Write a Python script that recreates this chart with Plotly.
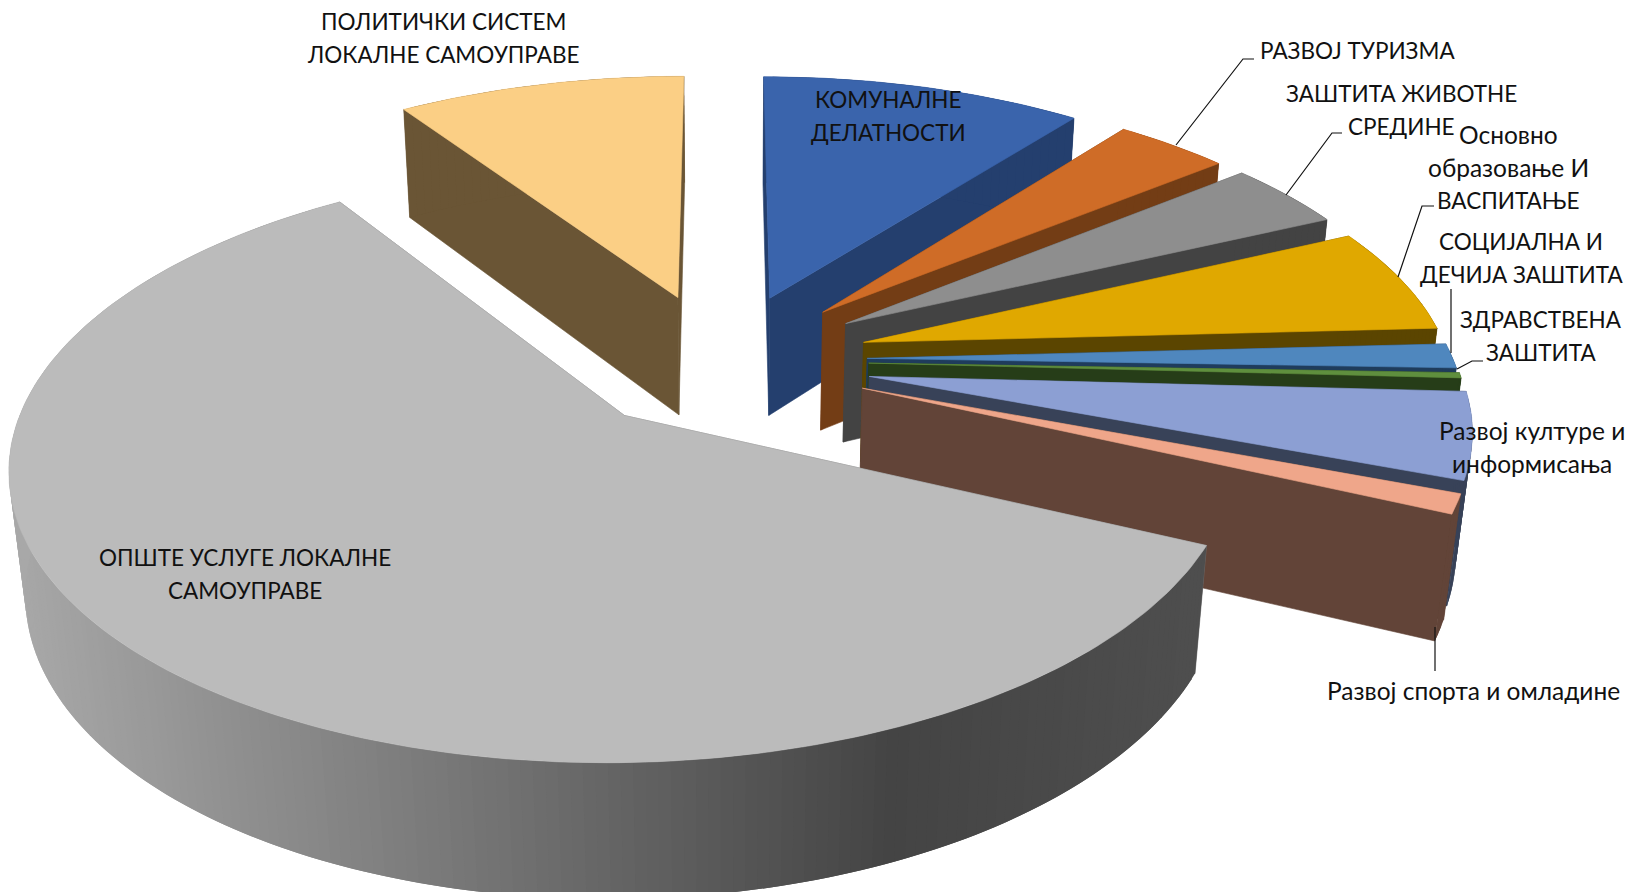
import numpy as np
import plotly.graph_objects as go

# ---- data -------------------------------------------------------------
categories = ["КОМУНАЛНЕ<br>ДЕЛАТНОСТИ", "РАЗВОЈ ТУРИЗМА", "ЗАШТИТА ЖИВОТНЕ<br>СРЕДИНЕ",
              "Основно<br>образовање И<br>ВАСПИТАЊЕ", "СОЦИЈАЛНА И<br>ДЕЧИЈА ЗАШТИТА",
              "ЗДРАВСТВЕНА<br>ЗАШТИТА", "Развој културе и<br>информисања",
              "Развој спорта и омладине", "ОПШТЕ УСЛУГЕ ЛОКАЛНЕ<br>САМОУПРАВЕ",
              "ПОЛИТИЧКИ СИСТЕМ<br>ЛОКАЛНЕ САМОУПРАВЕ"]
values = [10.5, 3.7, 3.9, 6.1, 1.4, 0.3, 4.9, 1.1, 58.9, 9.4]
pull = [0.225, 0.225, 0.225, 0.23, 0.234, 0.236, 0.24, 0.25, 0.255, 0.225]
# small per-slice corrections of the explosion (camera differences)
nudge_u = [0.005, 0.0085, 0.012, 0.007, 0.0, 0.0, 0.0, -0.0085, 0.0085, -0.012]
nudge_v = [-0.007, -0.007, -0.007, -0.011, -0.014, -0.018, -0.025, -0.018, -0.011, -0.007]
top_colors = ["#3A64AC", "#CF6C27", "#8E8E8E", "#E0A800", "#4F87BE", "#5F8F3E",
              "#8C9FD3", "#EFA68A", "#BBBBBB", "#FBCF85"]
side_colors = ["#243F6E", "#733D15", "#434343", "#5B4500", "#1F3C5C", "#263D18",
               "#384258", "#624438", "#707070", "#6A5535"]
label_pos = [(888, 116), (1357, 50), (1401, 110), (1508, 167), (1521, 258), (1541, 336),
             (1532, 447), (1473, 690), (245, 574), (443, 38)]
leaders = [[(1176, 145), (1243, 59), (1254, 59)],
           [(1286, 195), (1332, 133), (1342, 133)],
           [(1398, 277), (1422, 206), (1434, 206)],
           [(1451, 353), (1451, 289)],
           [(1457, 369), (1472, 361), (1483, 361)],
           [(1435, 627), (1435, 671)]]
LINE_STEP = 33

# ---- 3-D projection of the exploded pie ------------------------------
CX, CY, RX, RY, DROP, PERSP, HSHRINK = 723.7, 355, 612, 285, 122.5, 0.163, 0.022
RIM = 0.955


def proj(u, v, z):
    w = 1 + PERSP * v + HSHRINK * z
    return CX + RX * u / w, CY - (RY * v - DROP * z) / w


def grey(level):
    g = int(round(level))
    return f"#{g:02x}{g:02x}{g:02x}"


fig = go.Figure()


def poly(pts, color, lw=0.6):
    xs = [p[0] for p in pts] + [pts[0][0]]
    ys = [p[1] for p in pts] + [pts[0][1]]
    fig.add_trace(go.Scatter(x=xs, y=ys, mode="lines", fill="toself", fillcolor=color,
                             line=dict(color=color, width=lw), hoverinfo="skip",
                             showlegend=False))


total = sum(values)
starts = np.cumsum([0] + values[:-1]) / total * 2 * np.pi
spans = np.array(values) / total * 2 * np.pi
order = [9, 0, 1, 2, 3, 4, 5, 6, 7, 8]

for i in order:
    a0, a1 = starts[i], starts[i] + spans[i]
    mid = (a0 + a1) / 2
    ox = pull[i] * np.sin(mid) + nudge_u[i]
    oy = pull[i] * np.cos(mid) + nudge_v[i]
    n = max(3, int(np.degrees(spans[i]) / 1.0))
    angs = np.linspace(a0, a1, n + 1)
    rim = [(ox + RIM * np.sin(a), oy + RIM * np.cos(a)) for a in angs]

    # radial flanks
    for (ux, vy) in (rim[0], rim[-1]):
        poly([proj(ox, oy, 0), proj(ux, vy, 0), proj(ux, vy, 1), proj(ox, oy, 1)], side_colors[i])

    # outer wall: overlapping strips so no seams show between them
    for k in range(n):
        (u0, v0), (u1, v1) = rim[k], rim[min(k + 2, n)]
        pts = [proj(u0, v0, 0), proj(u1, v1, 0), proj(u1, v1, 1), proj(u0, v0, 1)]
        if i == 8:
            sx = pts[0][0]
            poly(pts, grey(np.interp(sx, [10, 400, 900, 1200], [168, 126, 68, 78])), lw=0)
        else:
            poly(pts, side_colors[i], lw=0)

    # top face
    poly([proj(ox, oy, 0)] + [proj(u, v, 0) for u, v in rim], top_colors[i])

for line in leaders:
    fig.add_trace(go.Scatter(x=[p[0] for p in line], y=[p[1] for p in line], mode="lines",
                             line=dict(color="#111111", width=1.2), hoverinfo="skip",
                             showlegend=False))

for text, (x, y) in zip(categories, label_pos):
    lines = text.split("<br>")
    for j, part in enumerate(lines):
        size = 22.5 if part.upper() == part else 24.5
        fig.add_annotation(x=x, y=y + (j - (len(lines) - 1) / 2) * LINE_STEP, text=part,
                           showarrow=False, xref="x", yref="y",
                           font=dict(family="Lato, Noto Sans, sans-serif", size=size, color="#111111"))

fig.update_xaxes(range=[0, 1629], visible=False, fixedrange=True)
fig.update_yaxes(range=[892, 0], visible=False, fixedrange=True)
fig.update_layout(width=1629, height=892, margin=dict(l=0, r=0, t=0, b=0),
                  paper_bgcolor="white", plot_bgcolor="white", showlegend=False)
fig.write_html("out.html", config={"displayModeBar": False},
               post_script="document.body.style.margin='0';document.documentElement.style.overflow='hidden';")
